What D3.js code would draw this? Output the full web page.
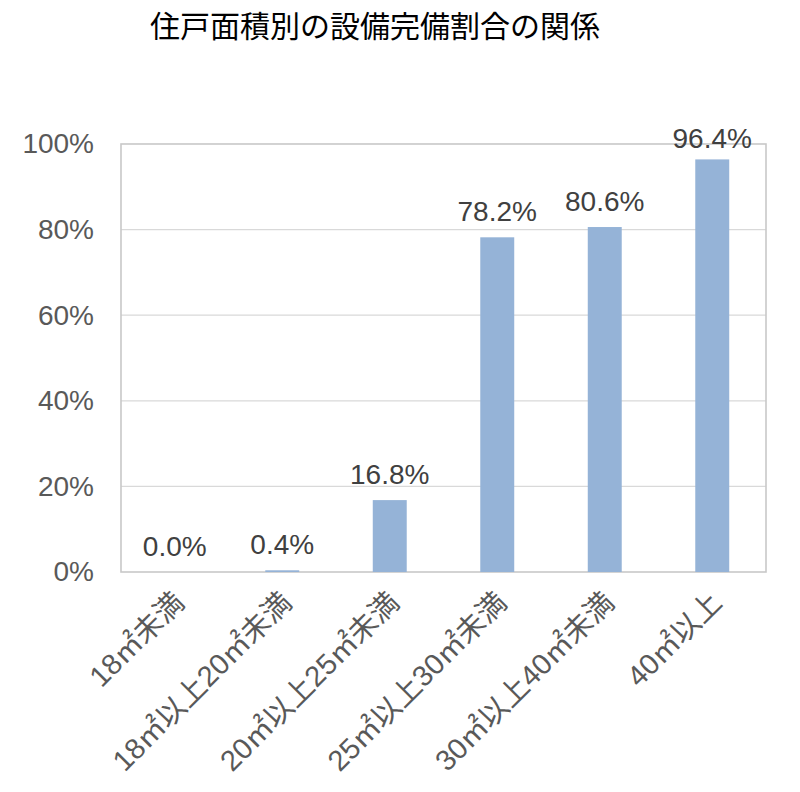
<!DOCTYPE html>
<html>
<head>
<meta charset="utf-8">
<script src="https://cdn.jsdelivr.net/npm/d3@7"></script>
<style>
  body { margin: 0; background: #fff; }
  text { font-family: "Liberation Sans", Arial, "Noto Sans CJK JP", sans-serif; }
</style>
</head>
<body>
<svg id="chart" width="800" height="792"></svg>
<script>
const categories = ["18㎡未満", "18㎡以上20㎡未満", "20㎡以上25㎡未満", "25㎡以上30㎡未満", "30㎡以上40㎡未満", "40㎡以上"];
const values = [0.0, 0.4, 16.8, 78.2, 80.6, 96.4];
const yTicks = [0, 20, 40, 60, 80, 100];
const title = "住戸面積別の設備完備割合の関係";

const margin = {top: 144, right: 34, bottom: 220, left: 121};
const svg = d3.select("#chart");
const width = +svg.attr("width") - margin.left - margin.right;
const height = +svg.attr("height") - margin.top - margin.bottom;
const g = svg.append("g").attr("transform", `translate(${margin.left}, ${margin.top})`);

const x = d3.scaleBand()
  .domain(categories)
  .range([0, width])
  .paddingInner(0.684)
  .paddingOuter(0.342);
const y = d3.scaleLinear()
  .domain([0, 100])
  .range([height, 0]);

svg.append("text")
  .attr("x", 375)
  .attr("y", 37)
  .attr("text-anchor", "middle")
  .attr("font-size", 30)
  .attr("fill", "#000")
  .style("font-family", "'Noto Sans CJK JP', sans-serif")
  .text(title);

// gridlines
g.append("g")
  .selectAll("line")
  .data(yTicks.filter(t => t > 0 && t < 100))
  .join("line")
  .attr("x1", 0)
  .attr("x2", width)
  .attr("y1", d => y(d))
  .attr("y2", d => y(d))
  .attr("stroke", "#d9d9d9")
  .attr("stroke-width", 1.3);

// plot border
g.append("rect")
  .attr("x", 0)
  .attr("y", 0)
  .attr("width", width)
  .attr("height", height)
  .attr("fill", "none")
  .attr("stroke", "#c8c8c8")
  .attr("stroke-width", 1.6);

// y axis labels
const yAxis = g.append("g")
  .call(d3.axisLeft(y).tickValues(yTicks).tickSize(0).tickPadding(27).tickFormat(d => d + "%"));
yAxis.select(".domain").remove();
yAxis.selectAll("text")
  .attr("font-size", 28)
  .attr("fill", "#595959")
  .style("font-family", "'Liberation Sans', Arial, sans-serif");

// bars
g.selectAll(".bar")
  .data(values)
  .join("rect")
  .attr("class", "bar")
  .attr("x", (d, i) => x(categories[i]))
  .attr("width", x.bandwidth())
  .attr("y", d => y(d))
  .attr("height", d => y(0) - y(d))
  .attr("fill", "#95b3d7");

// value labels (kept inside the top of the plot area)
g.selectAll(".val")
  .data(values)
  .join("text")
  .attr("class", "val")
  .attr("x", (d, i) => x(categories[i]) + x.bandwidth() / 2)
  .attr("y", d => Math.max(y(d) - 16, 4))
  .attr("text-anchor", "middle")
  .attr("font-size", 28)
  .attr("fill", "#404040")
  .text(d => d.toFixed(1) + "%");

// x axis labels
g.append("g")
  .selectAll("text")
  .data(categories)
  .join("text")
  .attr("transform", d => `translate(${x(d) + x.bandwidth() / 2 + 4}, ${height + 25}) rotate(-45)`)
  .attr("text-anchor", "end")
  .attr("dy", "0.35em")
  .attr("font-size", 29)
  .attr("fill", "#595959")
  .text(d => d);
</script>
</body>
</html>
